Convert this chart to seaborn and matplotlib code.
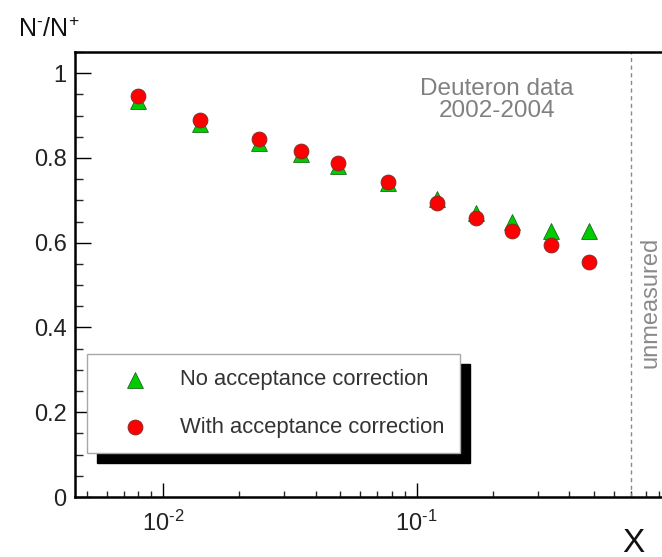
import numpy as np
import pandas as pd
import matplotlib
matplotlib.use("Agg")
import matplotlib.pyplot as plt
import seaborn as sns
from matplotlib.ticker import FixedLocator, FixedFormatter, NullFormatter, MultipleLocator

# ---- data ----
x_bins = [0.008, 0.014, 0.024, 0.035, 0.049, 0.077, 0.12, 0.171, 0.237, 0.337, 0.476]
ratio_no_corr = [0.934, 0.880, 0.835, 0.809, 0.781, 0.741, 0.703, 0.670, 0.649, 0.627, 0.627]
ratio_with_corr = [0.946, 0.889, 0.844, 0.816, 0.788, 0.743, 0.693, 0.658, 0.627, 0.594, 0.554]
series_labels = ["No acceptance correction", "With acceptance correction"]
x_major_ticks = [0.01, 0.1]
x_major_labels = [r"$10^{\text{-}2}$", r"$10^{\text{-}1}$"]
y_ticks = [0, 0.2, 0.4, 0.6, 0.8, 1.0]
y_tick_labels = ["0", "0.2", "0.4", "0.6", "0.8", "1"]
x_unmeasured = 0.7

sns.set_theme(style="ticks")
plt.rcParams["font.family"] = ["Liberation Sans", "DejaVu Sans"]
plt.rcParams["mathtext.fontset"] = "custom"
plt.rcParams["mathtext.rm"] = "Liberation Sans"
plt.rcParams["mathtext.it"] = "Liberation Sans:italic"
plt.rcParams["mathtext.default"] = "regular"

W, H = 662, 557
fig = plt.figure(figsize=(W / 100, H / 100), dpi=100)
ax = fig.add_axes([75 / W, 60 / H, (670.4 - 75) / W, 445 / H])

df_no = pd.DataFrame({"x": x_bins, "ratio": ratio_no_corr})
df_with = pd.DataFrame({"x": x_bins, "ratio": ratio_with_corr})

sns.scatterplot(data=df_no, x="x", y="ratio", marker="^", s=130, color="#00cc00",
                edgecolor="#1a6a1a", linewidth=0.6, label=series_labels[0], ax=ax, zorder=3)
sns.scatterplot(data=df_with, x="x", y="ratio", marker="o", s=115, color="#ff0000",
                edgecolor="#7a2a2a", linewidth=0.6, label=series_labels[1], ax=ax, zorder=4)

ax.set_xscale("log")
ax.set_xlim(0.0045, 1.0)
ax.set_ylim(0, 1.05)

ax.axvline(x_unmeasured, color="#8a8a8a", linestyle=(0, (3, 2.5)), linewidth=1.0, zorder=1)

ax.xaxis.set_major_locator(FixedLocator(x_major_ticks))
ax.xaxis.set_major_formatter(FixedFormatter(x_major_labels))
minors = [k * 10.0 ** d for d in (-3, -2, -1) for k in range(2, 10)]
ax.xaxis.set_minor_locator(FixedLocator(minors))
ax.xaxis.set_minor_formatter(NullFormatter())

ax.yaxis.set_major_locator(FixedLocator(y_ticks))
ax.yaxis.set_major_formatter(FixedFormatter(y_tick_labels))
ax.yaxis.set_minor_locator(MultipleLocator(0.05))

ax.set_xlabel("")
ax.set_ylabel("")

for side in ["left", "bottom", "top", "right"]:
    ax.spines[side].set_visible(True)
    ax.spines[side].set_linewidth(1.8)
    ax.spines[side].set_color("black")

ax.tick_params(axis="y", which="major", direction="in", length=11.5, width=1.0,
               labelsize=17, pad=6, colors="black", right=False)
ax.tick_params(axis="y", which="minor", direction="in", length=5.5, width=1.0, right=False)
ax.tick_params(axis="x", which="major", direction="in", length=10, width=1.0,
               labelsize=17, pad=10, colors="black", top=False)
ax.tick_params(axis="x", which="minor", direction="in", length=4.5, width=1.0, top=False)
ax.tick_params(labelcolor="#222222")

leg = ax.legend(loc="upper left", bbox_to_anchor=(87 / W, 1 - 354 / H),
                bbox_transform=fig.transFigure, borderaxespad=0,
                fontsize=15.8, frameon=True, fancybox=False, framealpha=1,
                edgecolor="#a8a8a8", borderpad=0.7, labelspacing=1.2,
                handlelength=3.0, handletextpad=0.55,
                shadow={"ox": 7.5, "oy": -7.5, "color": "black", "alpha": 1})
leg.get_frame().set_linewidth(1.0)
for t in leg.get_texts():
    t.set_color("#333333")

fig.text(497 / W, 1 - 100 / H, "Deuteron data\n2002-2004", ha="center", va="center",
         fontsize=17.5, color="#808080", linespacing=1.05)
fig.text(651 / W, 1 - 302 / H, "unmeasured", ha="center", va="center", rotation=90,
         fontsize=17, color="#8a8a8a")
fig.text(18 / W, 1 - 37 / H, r"N$^{\text{-}}$/N$^{+}$", ha="left", va="baseline",
         fontsize=18, color="#111111")
fig.text(633 / W, 1 - 543 / H, "X", ha="center", va="center", fontsize=24, color="#111111")

fig.savefig("out.png", dpi=100)
